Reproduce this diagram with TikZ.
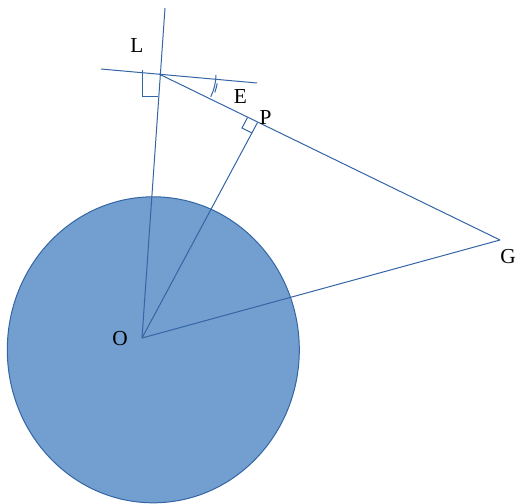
\documentclass[tikz,border=0pt]{standalone}
\usepackage{fontspec}
\setmainfont{Liberation Serif}
\usetikzlibrary{calc}
\begin{document}
\begin{tikzpicture}[x=0.75pt,y=-0.75pt,
  ln/.style={draw=lineblue,line width=0.75pt},
  lbl/.style={inner sep=0pt,font=\fontsize{16}{19}\selectfont}]
\definecolor{lineblue}{HTML}{3465A4}
\definecolor{fillblue}{HTML}{729FCF}
\useasboundingbox (0,0) rectangle (516,503);
% circle
\path[fill=fillblue,draw=lineblue,line width=0.75pt] (153.3,349.8) ellipse [x radius=146,y radius=153];
% points
\coordinate (O) at (142,338);
\coordinate (L) at (159,74);
\coordinate (P) at (257.5,122.5);
\coordinate (G) at (500,240);
\coordinate (Vt) at (165,8);
\coordinate (Hl) at (101,69);
\coordinate (Hr) at (257,83);
% lines
\draw[ln] (Vt) -- (O);
\draw[ln] (Hl) -- (Hr);
\draw[ln] (L) -- (G);
\draw[ln] (O) -- (P);
\draw[ln] (O) -- (G);
% right angle at L
\draw[ln] ($(L)+(-17,-4)$) -- ($(L)+(-17,22)$) -- ($(L)+(-1,22)$);
% right angle at P
\draw[ln] ($(P)+(-10,-5)$) -- ($(P)+(-15.5,5.5)$) -- ($(P)+(-5.5,10.5)$);
% angle mark
\draw[ln] ([shift={(5,0)}]L) ++(1:52) arc[start angle=1,end angle=26,radius=52];
\draw[ln] ([shift={(5,0)}]L) ++(10:54) arc[start angle=10,end angle=20,radius=54];
% labels
\node[lbl] (tL) at (137,46) {L};
\node[lbl] (tE) at (240.5,97) {E};
\node[lbl] (tP) at (265.5,117.5) {P};
\node[lbl] (tO) at (120,339) {O};
\node[lbl] (tG) at (508,257) {G};
\end{tikzpicture}
\end{document}
